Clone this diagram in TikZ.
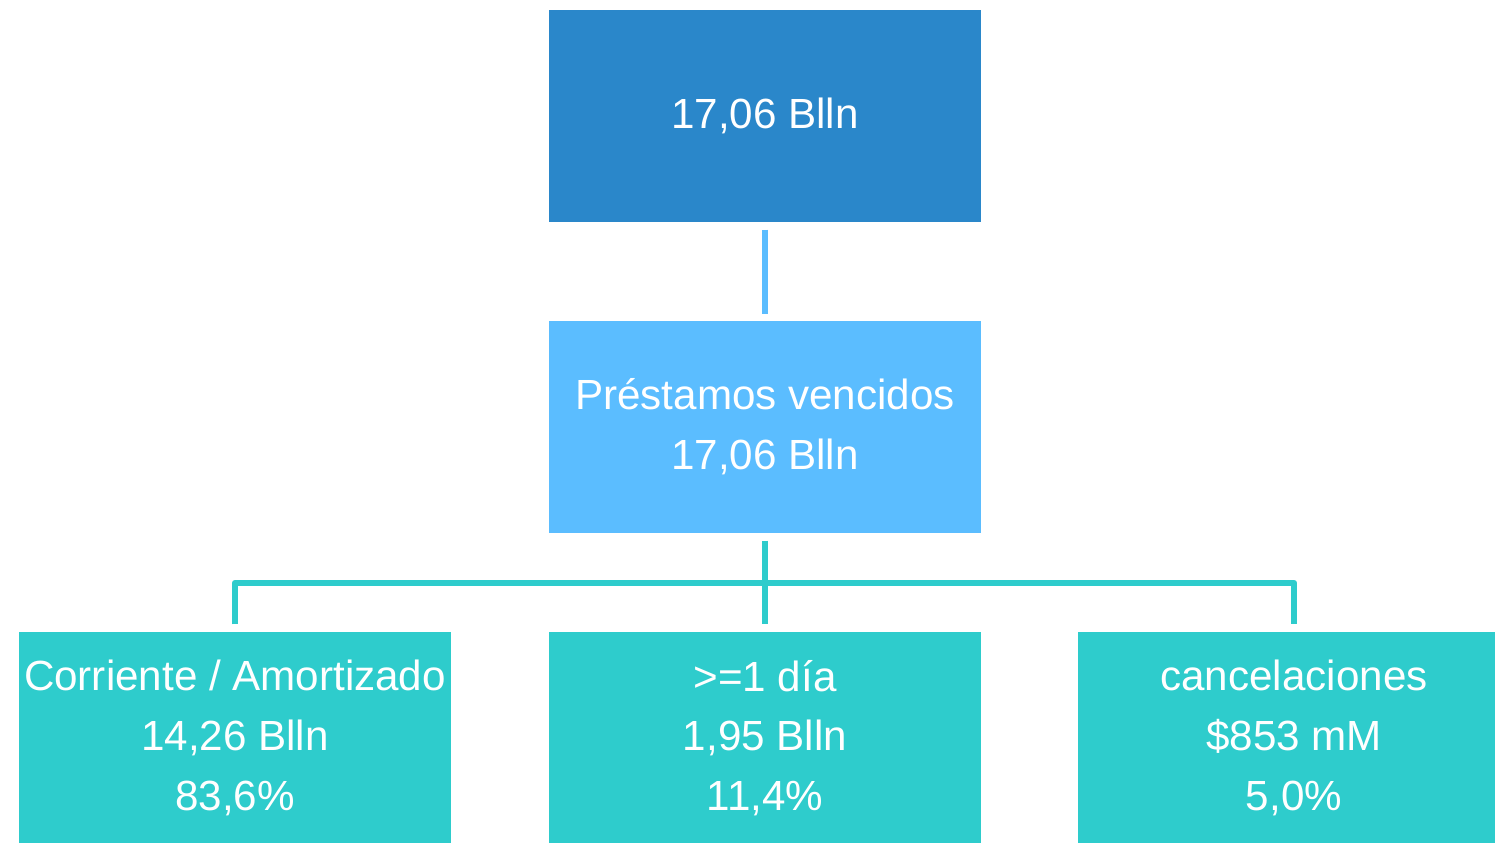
\documentclass[tikz,border=0pt]{standalone}
\usepackage{fontspec}
\setmainfont{Liberation Sans}
\usetikzlibrary{calc}
\definecolor{totalblue}{RGB}{42,135,202}
\definecolor{overdueblue}{RGB}{91,189,255}
\definecolor{bucketteal}{RGB}{46,204,204}

\begin{document}
\begin{tikzpicture}[
    font=\fontsize{12}{17}\selectfont,
    box/.style={minimum width=4.32cm, minimum height=2.12cm, inner sep=0pt,
      align=center, text=white},
    link/.style={line width=1.7pt, line join=round}
  ]
  \useasboundingbox (0,0) rectangle (14.95,-8.42);

  % Boxes
  \node[box, fill=totalblue] (total) at (7.65, -1.16) {17,06 Blln};
  \node[box, fill=overdueblue] (overdue) at (7.65, -4.27) {Préstamos vencidos\\17,06 Blln};
  \node[box, fill=bucketteal] (current) at (2.35, -7.38) {Corriente / Amortizado\\14,26 Blln\\83,6\%};
  \node[box, fill=bucketteal] (late) at (7.65, -7.38) {>=1 día\\1,95 Blln\\11,4\%};
  \node[box, fill=bucketteal] (writeoff) at (12.94, -7.38) {cancelaciones\\\$853 mM\\5,0\%};

  % Links
  \draw[link, overdueblue] ([yshift=-0.07cm]total.south) -- ([yshift=0.06cm]overdue.north);
  \coordinate (branch) at ($(overdue.south)+(0,-0.49)$);
  \draw[link, bucketteal] ([yshift=-0.07cm]overdue.south) -- ([yshift=0.07cm]late.north);
  \draw[link, bucketteal] ([yshift=0.07cm]current.north) |- (branch) -| ([yshift=0.07cm]writeoff.north);
\end{tikzpicture}
\end{document}
